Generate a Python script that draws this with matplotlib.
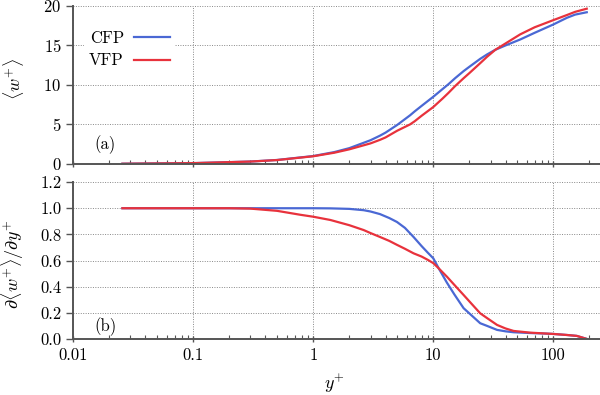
import numpy as np
import matplotlib
matplotlib.use('Agg')
import matplotlib.pyplot as plt
from matplotlib.ticker import FixedLocator, FixedFormatter, LogLocator, NullFormatter

# --- data (y+ positions and values) ---
yp_top = [0.0257, 0.1, 0.3, 0.5, 1, 1.5, 2, 3, 3.6, 4, 5, 6.4, 7, 8, 10, 12,
          13.4, 15.2, 17.9, 20, 24.6, 28, 32.9, 40, 53, 70, 100, 130, 152, 190]
w_cfp = [0.0257, 0.1, 0.3, 0.5, 1.0, 1.5, 2.0, 3.0, 3.58, 3.96, 4.93, 6.15, 6.65,
         7.35, 8.5, 9.5, 10.1, 10.85, 11.75, 12.3, 13.3, 13.85, 14.45, 15.0,
         15.75, 16.6, 17.65, 18.5, 18.9, 19.2]
w_vfp = [0.0257, 0.1, 0.3, 0.49, 0.97, 1.42, 1.85, 2.6, 3.05, 3.35, 4.2, 5.0,
         5.4, 6.1, 7.2, 8.3, 9.0, 9.85, 10.85, 11.5, 12.75, 13.55, 14.45, 15.25,
         16.4, 17.3, 18.2, 18.85, 19.25, 19.65]

yp_bot = [0.0257, 0.1, 0.2, 0.3, 0.5, 0.78, 1.0, 1.39, 2.0, 2.63, 3.0, 3.6,
          4.3, 4.98, 5.8, 6.85, 8, 9, 10, 11.1, 13, 15, 17.9, 20, 24.6, 28, 34,
          40, 46.7, 64, 80, 100, 130, 157, 190]
dw_cfp = [1, 1, 1, 1, 1, 1, 1.0, 0.999, 0.995, 0.985, 0.975, 0.955, 0.925,
          0.895, 0.85, 0.78, 0.71, 0.66, 0.617, 0.54, 0.43, 0.34, 0.235, 0.195,
          0.12, 0.10, 0.069, 0.058, 0.051, 0.045, 0.042, 0.038, 0.03, 0.023, 0.0]
dw_vfp = [1, 1, 1, 0.997, 0.98, 0.95, 0.935, 0.91, 0.87, 0.833, 0.81, 0.78,
          0.75, 0.72, 0.69, 0.655, 0.63, 0.605, 0.58, 0.54, 0.476, 0.413,
          0.336, 0.287, 0.196, 0.16, 0.107, 0.08, 0.061, 0.048, 0.043, 0.038,
          0.03, 0.023, 0.0]

x_ticks = [0.01, 0.1, 1, 10, 100]
x_ticklabels = ['0.01', '0.1', '1', '10', '100']

plt.rcParams['font.family'] = ['cmr10', 'DejaVu Serif']
plt.rcParams['mathtext.fontset'] = 'cm'
plt.rcParams['axes.formatter.use_mathtext'] = True

BLUE = '#4a68d4'
RED = '#e8323c'
AXC = '#555555'
FS = 12

fig = plt.figure(figsize=(6.0, 3.95), dpi=100)
ax1 = fig.add_axes([0.122, 0.585, 0.878, 0.400])
ax2 = fig.add_axes([0.122, 0.142, 0.878, 0.397])

ax1.plot(yp_top, w_cfp, color=BLUE, lw=1.6, label='CFP')
ax1.plot(yp_top, w_vfp, color=RED, lw=1.6, label='VFP')
ax2.plot(yp_bot, dw_cfp, color=BLUE, lw=1.6)
ax2.plot(yp_bot, dw_vfp, color=RED, lw=1.6)

for ax in (ax1, ax2):
    ax.set_xscale('log')
    ax.set_xlim(0.01, 245)
    ax.xaxis.set_major_locator(FixedLocator(x_ticks))
    ax.xaxis.set_minor_locator(LogLocator(base=10, subs=np.arange(2, 10)))
    ax.xaxis.set_minor_formatter(NullFormatter())
    for s in ('top', 'right'):
        ax.spines[s].set_visible(False)
    for s in ('left', 'bottom'):
        ax.spines[s].set_color(AXC)
        ax.spines[s].set_linewidth(1.4)
    ax.grid(True, which='major', color='#888888', linestyle=(0, (1, 1.5)), lw=0.7)
    ax.tick_params(axis='x', which='major', direction='inout', length=5,
                   width=1, color=AXC, labelsize=FS)
    ax.tick_params(axis='x', which='minor', direction='in', length=3,
                   width=0.8, color=AXC)
    ax.tick_params(axis='y', which='major', direction='out', length=5,
                   width=1, color=AXC, labelsize=FS)
    ax.set_axisbelow(True)

ax1.set_ylim(0, 20)
ax1.set_yticks([0, 5, 10, 15, 20])
ax1.xaxis.set_major_formatter(NullFormatter())

ax2.set_ylim(0, 1.2)
ax2.set_yticks([0.0, 0.2, 0.4, 0.6, 0.8, 1.0, 1.2])
ax2.set_yticklabels(['0.0', '0.2', '0.4', '0.6', '0.8', '1.0', '1.2'])
ax2.xaxis.set_major_formatter(FixedFormatter(x_ticklabels))

leg = ax1.legend(loc='upper left', bbox_to_anchor=(0.005, 0.93), markerfirst=False,
                 frameon=True, fontsize=FS, handlelength=2.2, handletextpad=0.6,
                 labelspacing=0.45, borderpad=0.3, fancybox=False)
leg.get_frame().set_facecolor('white')
leg.get_frame().set_edgecolor('none')
leg.get_frame().set_alpha(1.0)

ax1.text(0.06, 0.12, '(a)', transform=ax1.transAxes, fontsize=FS,
         ha='center', va='center')
ax2.text(0.062, 0.076, '(b)', transform=ax2.transAxes, fontsize=FS,
         ha='center', va='center')

fig.text(0.022, 0.80, r'$\langle w^{+}\rangle$', rotation=90, fontsize=FS + 1,
         ha='center', va='center')
fig.text(0.022, 0.33, r'$\partial\langle w^{+}\rangle/\partial y^{+}$', rotation=90,
         fontsize=FS + 1, ha='center', va='center')
fig.text(0.558, 0.028, r'$y^{+}$', fontsize=FS + 1, ha='center', va='center')

fig.savefig('out.png', dpi=100)
